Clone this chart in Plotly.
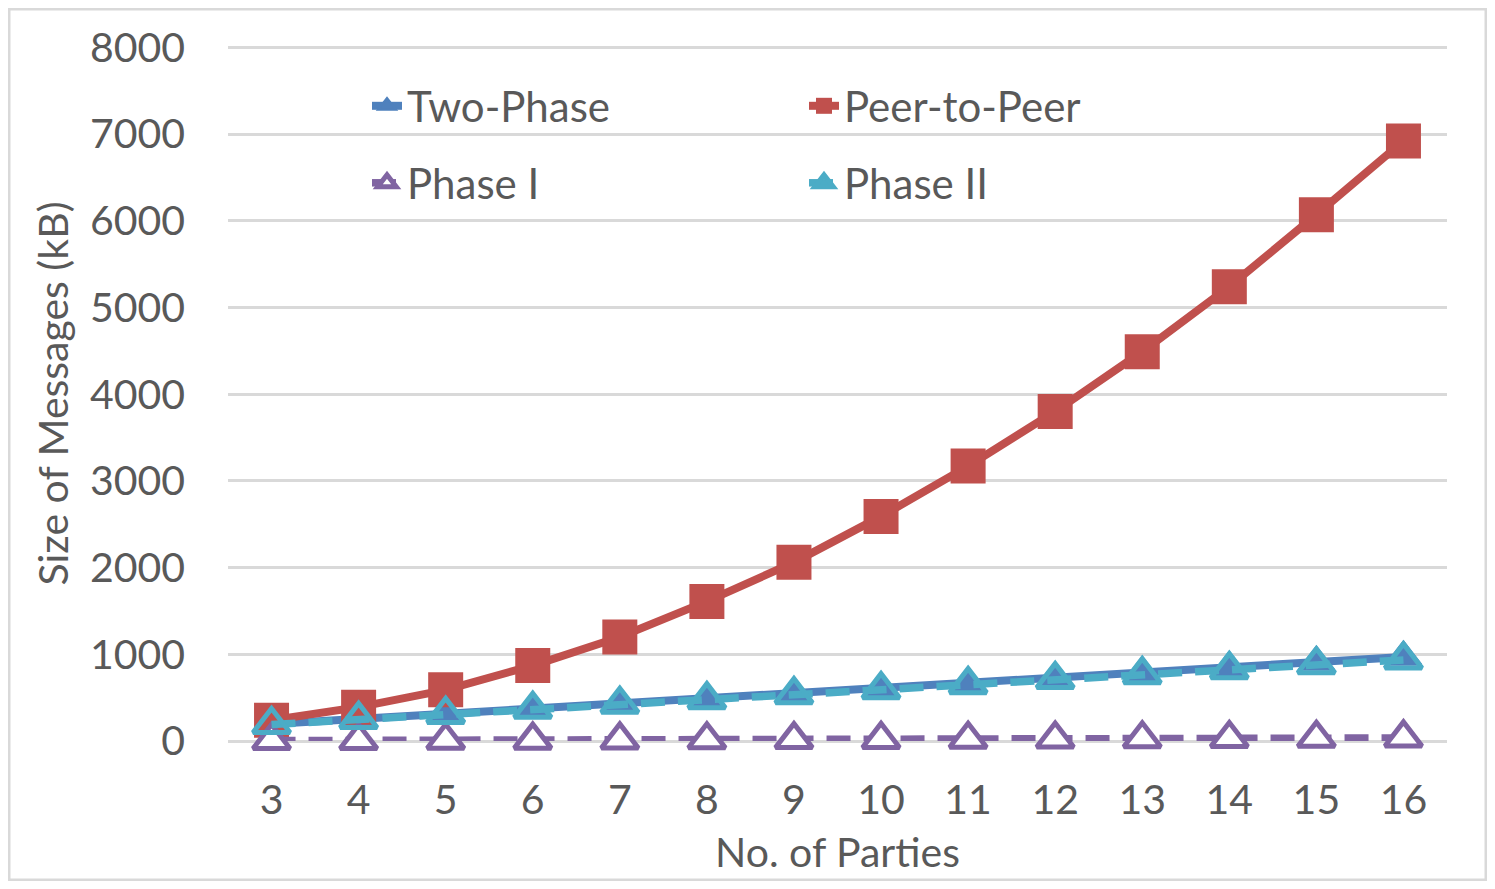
import plotly.graph_objects as go

# values (kB)
parties = [3, 4, 5, 6, 7, 8, 9, 10, 11, 12, 13, 14, 15, 16]
two_phase = [195, 255, 315, 375, 435, 490, 550, 610, 670, 730, 790, 850, 910, 970]
peer_to_peer = [240, 390, 590, 870, 1200, 1610, 2060, 2590, 3170, 3800, 4490, 5240, 6070, 6920]
phase_1 = [5, 6, 8, 10, 12, 14, 16, 18, 20, 22, 25, 28, 31, 35]
phase_2 = [190, 249, 307, 365, 423, 476, 534, 592, 650, 708, 765, 822, 879, 935]

y_ticks = [0, 1000, 2000, 3000, 4000, 5000, 6000, 7000, 8000]

BLUE = "#4F81BD"
RED = "#C0504D"
PURPLE = "#8064A2"
CYAN = "#4BACC6"
TEXT = "#595959"
GRID = "#D9D9D9"
FONT = "Lato"

# page has an 8px body margin, so the figure is 16px smaller than the window
W, H = 1479, 873
L, R, T, B = 220, 40, 38, 140
PW, PH = W - L - R, H - T - B

fig = go.Figure()

fig.add_trace(go.Scatter(
    x=parties, y=two_phase, name="Two-Phase", mode="lines+markers",
    line=dict(color=BLUE, width=8),
    marker=dict(symbol="triangle-up", size=31, color=BLUE, line=dict(color=BLUE, width=2)),
    legend="legend",
))
fig.add_trace(go.Scatter(
    x=parties, y=peer_to_peer, name="Peer-to-Peer", mode="lines+markers",
    line=dict(color=RED, width=8),
    marker=dict(symbol="square", size=35, color=RED),
    legend="legend",
))
fig.add_trace(go.Scatter(
    x=parties, y=phase_1, name="Phase I", mode="lines+markers",
    line=dict(color=PURPLE, width=7.5, dash="24px,13px"),
    marker=dict(symbol="triangle-up", size=32, color="white", line=dict(color=PURPLE, width=5)),
    legend="legend2",
))
fig.add_trace(go.Scatter(
    x=parties, y=phase_2, name="Phase II", mode="lines+markers",
    line=dict(color=CYAN, width=7.5, dash="24px,13px"),
    marker=dict(symbol="triangle-up", size=32, color="rgba(0,0,0,0)", line=dict(color=CYAN, width=5)),
    legend="legend2",
))

for tr in fig.data:
    tr.cliponaxis = False

legend_x = (359 - L) / PW
legend_common = dict(
    orientation="h", x=legend_x, xanchor="left", yanchor="middle",
    entrywidth=392, entrywidthmode="pixels",
    font=dict(family=FONT, size=42, color=TEXT), bgcolor="rgba(0,0,0,0)",
)

fig.update_layout(
    width=W, height=H,
    margin=dict(l=L, r=R, t=T, b=B),
    paper_bgcolor="white", plot_bgcolor="white",
    font=dict(family=FONT, color=TEXT, size=40),
    showlegend=True,
    legend=dict(y=1 - (98 - T) / PH, **legend_common),
    legend2=dict(y=1 - (175 - T) / PH, **legend_common),
    xaxis=dict(
        range=[2.5, 16.5], tickmode="array", tickvals=parties,
        ticktext=[str(p) for p in parties],
        showgrid=False, zeroline=False, showline=False, ticks="",
        ticklabelstandoff=31,
        tickfont=dict(size=41, color=TEXT),
        title=dict(text="No. of Parties", font=dict(size=41, color=TEXT), standoff=16),
    ),
    yaxis=dict(
        range=[0, 8015], tickmode="array", tickvals=y_ticks,
        showgrid=True, gridcolor=GRID, gridwidth=3,
        zeroline=True, zerolinecolor=GRID, zerolinewidth=3,
        showline=False, ticks="", ticklabelstandoff=42,
        tickfont=dict(size=41, color=TEXT),
        title=dict(text="Size of Messages (kB)", font=dict(size=41, color=TEXT), standoff=8),
    ),
)

# thin frame round the whole picture
fig.add_shape(
    type="rect", xref="paper", yref="paper",
    x0=-L / PW + 1 / PW, x1=1 + R / PW - 1 / PW,
    y0=-B / PH + 1 / PH, y1=1 + T / PH - 1 / PH,
    line=dict(color=GRID, width=3), layer="below",
)

fig.write_html("out.html")
